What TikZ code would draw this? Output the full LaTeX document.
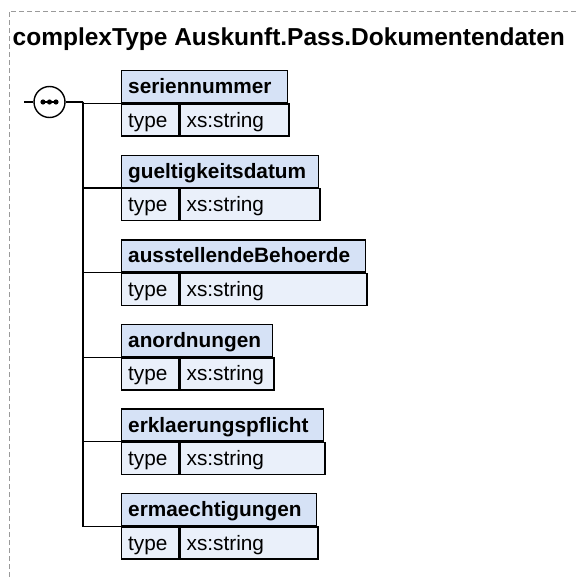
\documentclass[tikz,border=0pt]{standalone}
\usepackage{fontspec}
\setmainfont{Liberation Sans}
\usepackage{xcolor}
\definecolor{hdrblue}{HTML}{D6E2F6}
\definecolor{rowblue}{HTML}{EAF0FA}
\definecolor{framegray}{HTML}{9A9A9A}

\begin{document}
\begin{tikzpicture}[x=1pt, y=-1pt,
    cell/.style={draw, line width=1.4pt, inner xsep=6.5pt, inner ysep=0pt,
        minimum height=32pt, text height=21pt, text depth=7pt, align=left,
        anchor=north west, font=\fontsize{20.8}{24}\selectfont},
    header/.style={cell, fill=hdrblue, font=\bfseries\fontsize{20.8}{24}\selectfont},
    typecell/.style={cell, fill=rowblue, text width=44pt},
    valcell/.style={cell, fill=rowblue},
    wire/.style={line width=1.3pt}]
    \useasboundingbox (0,0) rectangle (577,577);

    % frame and title
    \draw[framegray, line width=0.9pt, dash pattern=on 5pt off 3pt] (9,577) -- (9,11) -- (577,11);
    \node[anchor=base west, inner sep=0pt, font=\bfseries\fontsize{24.5}{29}\selectfont] (title) at (12.5,45.5)
        {complexType Auskunft.Pass.Dokumentendaten};

    % sequence compositor
    \coordinate (in) at (24,102);
    \coordinate (junc) at (83,102);
    \node[draw, circle, line width=1.4pt, minimum size=31pt, inner sep=0pt, fill=white] (seq) at (49.5,102) {};
    \draw[line width=1.6pt] ([xshift=-8pt]seq.center) -- ([xshift=8pt]seq.center);
    \foreach \dx in {-6.5,0,6.5}
        \fill ([xshift=\dx pt]seq.center) circle (2.6pt);

    % elements
    \foreach \lbl/\w [count=\i] in {seriennummer/166, gueltigkeitsdatum/197,
        ausstellendeBehoerde/244, anordnungen/151, erklaerungspflicht/202, ermaechtigungen/195} {
        \pgfmathsetmacro{\ytop}{70+84.6*(\i-1)}
        \pgfmathsetmacro{\hw}{\w-13}
        \pgfmathsetmacro{\vw}{\w-57-13}
        \node[header, text width=\hw pt] (h\i) at (121,\ytop) {\lbl};
        \node[typecell] (t\i) at (h\i.south west) {type};
        \node[valcell, text width=\vw pt] (v\i) at (t\i.north east) {xs:string};
        \draw[wire] (junc) |- (h\i.south west);
    }

    \draw[wire] (in) -- (seq);
    \draw[wire] (seq) -- (junc);
    \draw[wire] (junc) -- (junc |- h6.south west);
\end{tikzpicture}
\end{document}
